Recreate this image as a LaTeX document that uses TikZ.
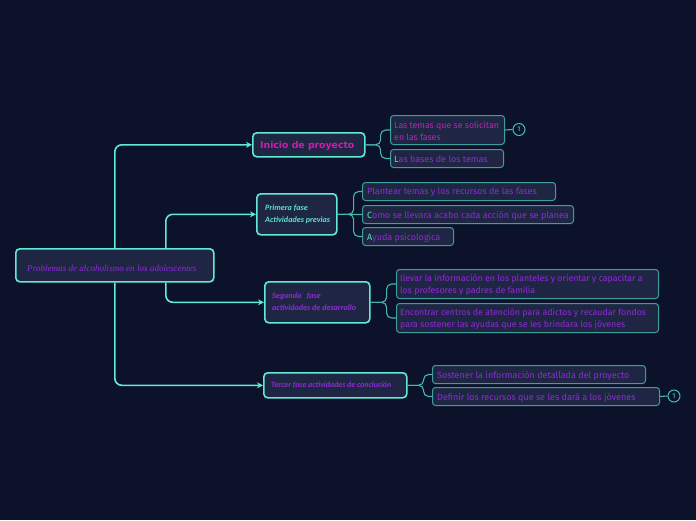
\documentclass[tikz,border=0pt]{standalone}
\usepackage{fontspec}
\setmainfont{Liberation Serif}
\newfontfamily\subf{Fira Sans}
\newfontfamily\handf{Carlito}
\newfontfamily\boldf{DejaVu Sans}
\usetikzlibrary{arrows.meta}
\definecolor{bgc}{HTML}{0B1229}
\definecolor{fillc}{HTML}{1F2643}
\definecolor{mainline}{HTML}{62EAD8}
\definecolor{subline}{HTML}{45B8B0}
\definecolor{subborder}{HTML}{3E9E9C}
\definecolor{purp}{HTML}{8E2AD8}
\definecolor{magc}{HTML}{D21AB0}
\definecolor{magd}{HTML}{B825B8}
\definecolor{tealt}{HTML}{5CE0D0}
\tikzset{
  mainbox/.style={draw=mainline, line width=1.6pt, fill=fillc, rounded corners=4pt, anchor=north west, inner sep=0pt},
  subbox/.style={draw=subborder, line width=1pt, fill=fillc, rounded corners=3pt, anchor=north west, inner sep=0pt},
  conn/.style={draw=mainline, line width=1.6pt, rounded corners=7pt, -{Stealth[length=6pt,width=6pt]}},
  subconn/.style={draw=subline, line width=1.1pt, rounded corners=5pt},
  subtxt/.style={font=\subf\fontsize{9}{12}\selectfont, text=purp, anchor=west, inner sep=0pt},
  hand/.style={font=\handf\bfseries\itshape\fontsize{8.1}{10}\selectfont, anchor=west, inner sep=0pt, align=left},
  badge/.style={draw=subline, line width=1pt, circle, minimum size=12pt, inner sep=0pt, font=\subf\fontsize{7}{8}\selectfont, text=tealt}
}
\begin{document}
\begin{tikzpicture}[x=1pt,y=-1pt]
\fill[bgc] (0,0) rectangle (696,520);
\useasboundingbox (0,0) rectangle (696,520);
% main nodes
\node[mainbox, minimum width=198pt, minimum height=33pt] (central) at (15,248) {};
\node[font=\fontsize{9.1}{10}\selectfont\itshape, text=purp, anchor=west, inner sep=0pt] (centralt) at (27,268) {Problemas de alcoholismo en los adolescentes};
\node[mainbox, minimum width=112pt, minimum height=24pt] (inicio) at (252,132) {};
\node[font=\boldf\bfseries\fontsize{9.3}{10}\selectfont, text=magc, anchor=west, inner sep=0pt] (iniciot) at (260,145.5) {Inicio de proyecto};
\node[mainbox, minimum width=80pt, minimum height=41pt] (primera) at (256,193) {};
\node[hand, text=tealt] (primerat) at (265,214) {Primera fase\\[2pt]Actividades previas};
\node[mainbox, minimum width=105pt, minimum height=41pt] (segunda) at (264,281) {};
\node[hand, text=purp] (segundat) at (272,302) {Segunda \ \ fase\\[2pt]actividades de desarrollo};
\node[mainbox, minimum width=143pt, minimum height=25pt] (tercer) at (263,372) {};
\node[hand, text=purp, font=\handf\bfseries\itshape\fontsize{7.9}{9}\selectfont] (tercert) at (271,385) {Tercer fase actividades de conclusión};
% sub nodes
\node[subbox, minimum width=114pt, minimum height=29pt] (s1) at (390,115) {};
\node[subtxt, text=magd, align=left, font=\subf\fontsize{8.8}{12}\selectfont] (s1t) at (394,131) {Las temas que se solicitan\\en las fases};
\node[subbox, minimum width=113pt, minimum height=18pt] (s2) at (390,149) {};
\node[subtxt] (s2t) at (394,159.5) {\textcolor{tealt}{L}as bases de los temas};
\node[subbox, minimum width=193pt, minimum height=18pt] (p1) at (362,182) {};
\node[subtxt] (p1t) at (367,192.5) {Plantear temas y los recursos de las fases};
\node[subbox, minimum width=211pt, minimum height=18pt] (p2) at (362,205) {};
\node[subtxt] (p2t) at (367,215.5) {\textcolor{tealt}{C}omo se llevara acabo cada acción que se planea};
\node[subbox, minimum width=91pt, minimum height=18pt] (p3) at (362,227) {};
\node[subtxt] (p3t) at (367,237.5) {\textcolor{tealt}{A}yuda psicologica};
\node[subbox, minimum width=262pt, minimum height=29pt] (g1) at (396,269) {};
\node[subtxt, align=left, font=\subf\fontsize{8.8}{12}\selectfont] (g1t) at (400,285) {llevar la información en los planteles y orientar y capacitar a\\los profesores y padres de familia};
\node[subbox, minimum width=262pt, minimum height=29pt] (g2) at (396,303) {};
\node[subtxt, align=left, font=\subf\fontsize{8.8}{12}\selectfont] (g2t) at (400,319) {Encontrar centros de atención para adictos y recaudar fondos\\para sostener las ayudas que se les brindara los jóvenes};
\node[subbox, minimum width=213pt, minimum height=18pt] (t1) at (432,365) {};
\node[subtxt] (t1t) at (437,375.5) {Sostener la información detallada del proyecto};
\node[subbox, minimum width=227pt, minimum height=18pt] (t2) at (432,387) {};
\node[subtxt] (t2t) at (437,397.5) {Definir los recursos que se les dará a los jóvenes};
% badges
\node[badge] (b1) at (519,129.5) {1};
\node[badge] (b2) at (674,396) {1};
% main connectors
\draw[conn] (central.north) |- (inicio.west);
\draw[conn] (central.south) |- (tercer.west);
\draw[conn] ([xshift=51pt]central.north) |- (primera.west);
\draw[conn] ([xshift=51pt]central.south) |- (segunda.west);
% sub connectors
\draw[subconn] (inicio.east) -- ++(15,0) |- (s1.west);
\draw[subconn] (inicio.east) -- ++(15,0) |- (s2.west);
\draw[subconn] (primera.east) -- ++(16,0) |- (p1.west);
\draw[subconn] (primera.east) -- (p2.west);
\draw[subconn] (primera.east) -- ++(16,0) |- (p3.west);
\draw[subconn] (segunda.east) -- ++(16,0) |- (g1.west);
\draw[subconn] (segunda.east) -- ++(16,0) |- (g2.west);
\draw[subconn] (tercer.east) -- ++(16,0) |- (t1.west);
\draw[subconn] (tercer.east) -- ++(16,0) |- (t2.west);
\draw[subconn] (s1.east) -- (b1.west);
\draw[subconn] (t2.east) -- (b2.west);
\end{tikzpicture}
\end{document}
